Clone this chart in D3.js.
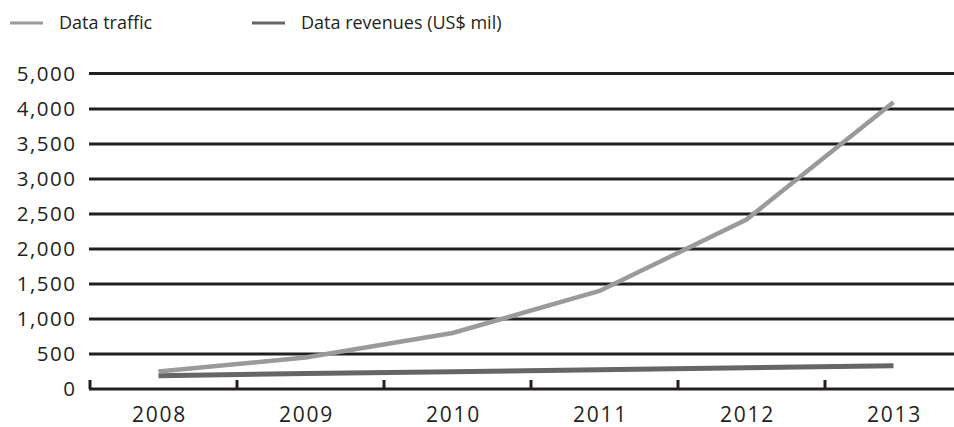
<!DOCTYPE html>
<html lang="en">
<head>
  <meta charset="UTF-8">
  <title>Data traffic vs data revenues</title>
  <script src="https://d3js.org/d3.v7.min.js"></script>
  <style>
    body { margin: 0; background: #fff; }
    text { font-family: "Open Sans", sans-serif; fill: #231f20; }
    .y-label { font-size: 20.5px; letter-spacing: 1.5px; }
    .x-label { font-size: 21px; letter-spacing: 1.8px; }
    .legend-label { font-size: 18px; }
  </style>
</head>
<body>
  <svg id="chart" width="954" height="427"></svg>

  <script>
    // Data
    const years = ["2008", "2009", "2010", "2011", "2012", "2013"];
    const traffic = [250, 450, 800, 1400, 2420, 4190];
    const revenues = [190, 220, 247, 275, 305, 333];
    const yTicks = [0, 500, 1000, 1500, 2000, 2500, 3000, 3500, 4000, 5000];
    const yTickLabels = ["0", "500", "1,000", "1,500", "2,000", "2,500", "3,000", "3,500", "4,000", "5,000"];
    const seriesNames = ["Data traffic", "Data revenues (US$ mil)"];
    const seriesColors = ["#9a9a9a", "#666666"];

    const svg = d3.select("#chart");

    const plotLeft = 89, plotRight = 954, plotBottom = 389, plotTop = 73.5;

    // The axis jumps from 4,000 straight to 5,000 in one step
    const y = d3.scaleLinear()
      .domain([0, 4000, 5000])
      .range([plotBottom, plotBottom - 8 * 35, plotTop]);

    const x = d3.scaleBand()
      .domain(years)
      .range([plotLeft, plotLeft + 6 * 147]);

    // Gridlines
    svg.append("g")
      .selectAll("line")
      .data(yTicks.filter(d => d > 0))
      .enter()
      .append("line")
      .attr("x1", plotLeft)
      .attr("x2", plotRight)
      .attr("y1", d => y(d))
      .attr("y2", d => y(d))
      .attr("stroke", "#231f20")
      .attr("stroke-width", 3);

    // Y tick labels
    svg.append("g")
      .selectAll("text")
      .data(yTicks)
      .enter()
      .append("text")
      .attr("class", "y-label")
      .attr("x", 76.5)
      .attr("y", d => y(d))
      .attr("dy", "0.36em")
      .attr("text-anchor", "end")
      .text((d, i) => yTickLabels[i]);

    // X axis baseline and tick marks between years
    svg.append("line")
      .attr("x1", plotLeft)
      .attr("x2", plotRight)
      .attr("y1", plotBottom)
      .attr("y2", plotBottom)
      .attr("stroke", "#231f20")
      .attr("stroke-width", 3);

    svg.append("g")
      .selectAll("line")
      .data(years)
      .enter()
      .append("line")
      .attr("x1", d => x(d) + 1)
      .attr("x2", d => x(d) + 1)
      .attr("y1", plotBottom)
      .attr("y2", plotBottom - 9)
      .attr("stroke", "#231f20")
      .attr("stroke-width", 3);

    svg.append("g")
      .selectAll("text")
      .data(years)
      .enter()
      .append("text")
      .attr("class", "x-label")
      .attr("x", d => x(d) + x.bandwidth() / 2 - 3)
      .attr("y", 422)
      .attr("text-anchor", "middle")
      .text(d => d);

    // Lines
    const line = d3.line()
      .x((d, i) => x(years[i]) + x.bandwidth() / 2 - 4)
      .y(d => y(d));

    svg.append("path")
      .datum(revenues)
      .attr("fill", "none")
      .attr("stroke", seriesColors[1])
      .attr("stroke-width", 5)
      .attr("d", line);

    svg.append("path")
      .datum(traffic)
      .attr("fill", "none")
      .attr("stroke", seriesColors[0])
      .attr("stroke-width", 4.5)
      .attr("d", line);

    // Legend
    const legend = svg.append("g")
      .selectAll("g")
      .data(seriesNames)
      .enter()
      .append("g")
      .attr("transform", (d, i) => "translate(" + (10 + i * 242) + ",23)");

    legend.append("line")
      .attr("x1", 0)
      .attr("x2", 33)
      .attr("stroke", (d, i) => seriesColors[i])
      .attr("stroke-width", 3);

    legend.append("text")
      .attr("class", "legend-label")
      .attr("x", 49)
      .attr("dy", "0.35em")
      .text(d => d);
  </script>
</body>
</html>
